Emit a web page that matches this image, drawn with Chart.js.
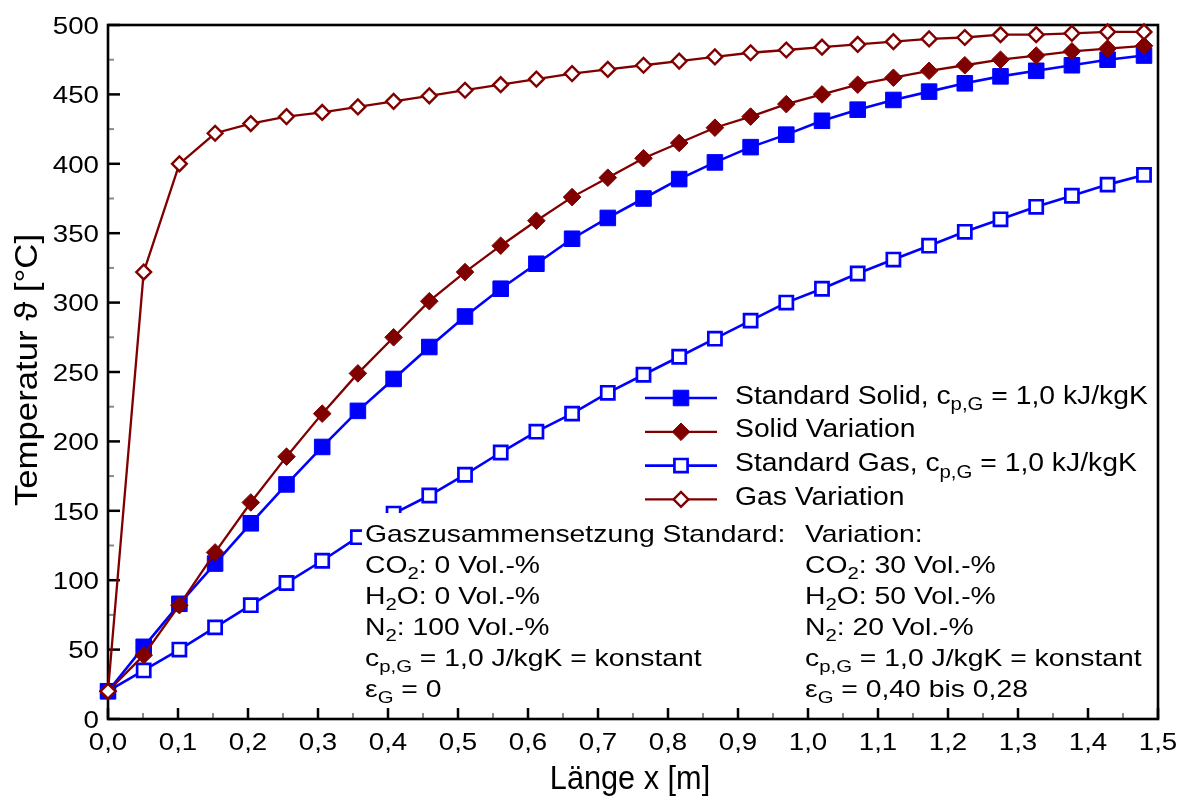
<!DOCTYPE html>
<html>
<head>
<meta charset="utf-8">
<script src="https://cdn.jsdelivr.net/npm/chart.js@4.4.1/dist/chart.umd.min.js"></script>
<style>
  html, body { margin: 0; padding: 0; background: #fff; }
  #wrap { width: 1184px; height: 798px; position: relative; }
</style>
</head>
<body>
<div id="wrap"><canvas id="chart"></canvas></div>
<script>
// Position along the bed, x in m
const lengthX = [0.000, 0.051, 0.102, 0.153, 0.204, 0.255, 0.306, 0.357, 0.408, 0.459,
                 0.510, 0.561, 0.612, 0.663, 0.714, 0.765, 0.816, 0.867, 0.918, 0.969,
                 1.020, 1.071, 1.122, 1.173, 1.224, 1.275, 1.326, 1.377, 1.428, 1.480];

// Temperatures in °C
const standardSolid  = [20, 52, 83, 112, 141, 169, 196, 222, 245, 268, 290, 310, 328, 346, 361,
                        375, 389, 401, 412, 421, 431, 439, 446, 452, 458, 463, 467, 471, 475, 478];
const solidVariation = [20, 46, 82, 120, 156, 189, 220, 249, 275, 301, 322, 341, 359, 376, 390,
                        404, 415, 426, 434, 443, 450, 457, 462, 467, 471, 475, 478, 481, 483, 485];
const standardGas    = [20, 35, 50, 66, 82, 98, 114, 131, 148, 161, 176, 192, 207, 220, 235,
                        248, 261, 274, 287, 300, 310, 321, 331, 341, 351, 360, 369, 377, 385, 392];
const gasVariation   = [20, 322, 400, 422, 429, 434, 437, 441, 445, 449, 453, 457, 461, 465, 468,
                        471, 474, 477, 480, 482, 484, 486, 488, 490, 491, 493, 493, 494, 495, 495];

// Legend labels: [text, isSubscript]
const legendLabels = [
  [["Standard Solid, c"], ["p,G", true], [" = 1,0 kJ/kgK"]],
  [["Solid Variation"]],
  [["Standard Gas, c"], ["p,G", true], [" = 1,0 kJ/kgK"]],
  [["Gas Variation"]]
];

// Gas composition notes, two columns
const notesStandard = [
  [["Gaszusammensetzung Standard:"]],
  [["CO"], ["2", true], [": 0 Vol.-%"]],
  [["H"], ["2", true], ["O: 0 Vol.-%"]],
  [["N"], ["2", true], [": 100 Vol.-%"]],
  [["c"], ["p,G", true], [" = 1,0 J/kgK = konstant"]],
  [["ε"], ["G", true], [" = 0"]]
];
const notesVariation = [
  [["Variation:"]],
  [["CO"], ["2", true], [": 30 Vol.-%"]],
  [["H"], ["2", true], ["O: 50 Vol.-%"]],
  [["N"], ["2", true], [": 20 Vol.-%"]],
  [["c"], ["p,G", true], [" = 1,0 J/kgK = konstant"]],
  [["ε"], ["G", true], [" = 0,40 bis 0,28"]]
];

const xTitle = "Länge x [m]";
const yTitle = "Temperatur ϑ [°C]";

const FONT = "'Liberation Sans', Arial, sans-serif";
const BLUE = "#0000ff";
const RED = "#800000";

function pts(ys) { return lengthX.map((x, i) => ({ x: x, y: ys[i] })); }

// Draws a line of text with optional subscripts, horizontally stretched by sx
function richText(ctx, parts, x, y, size, sx, align, rotate) {
  ctx.save();
  ctx.translate(x, y);
  if (rotate) ctx.rotate(rotate);
  ctx.scale(sx, 1);
  ctx.textBaseline = "alphabetic";
  ctx.textAlign = "left";
  ctx.fillStyle = "#000";
  const subSize = size * 0.72;
  let total = 0;
  const widths = parts.map(p => {
    ctx.font = (p[1] ? subSize : size) + "px " + FONT;
    const w = ctx.measureText(p[0]).width;
    total += w;
    return w;
  });
  let cx = align === "right" ? -total : align === "center" ? -total / 2 : 0;
  parts.forEach((p, i) => {
    ctx.font = (p[1] ? subSize : size) + "px " + FONT;
    ctx.fillText(p[0], cx, p[1] ? size * 0.27 : 0);
    cx += widths[i];
  });
  ctx.restore();
}

function drawMarker(ctx, ds, x, y) {
  const r = ds.pointRadius;
  ctx.save();
  ctx.lineWidth = ds.pointBorderWidth;
  ctx.strokeStyle = ds.pointBorderColor;
  ctx.fillStyle = ds.pointBackgroundColor;
  ctx.beginPath();
  if (ds.pointStyle === "rect") {
    const h = r * Math.SQRT1_2;
    ctx.rect(x - h, y - h, 2 * h, 2 * h);
  } else {
    ctx.moveTo(x - r, y);
    ctx.lineTo(x, y - r);
    ctx.lineTo(x + r, y);
    ctx.lineTo(x, y + r);
    ctx.closePath();
  }
  ctx.fill();
  ctx.stroke();
  ctx.restore();
}

// Frame, inward ticks, tick labels and axis titles
const framePlugin = {
  id: "frame",
  beforeDatasetsDraw(chart) {
    const ctx = chart.ctx;
    const a = chart.chartArea;
    const xs = chart.scales.x, ys = chart.scales.y;
    ctx.save();
    // minor ticks
    ctx.strokeStyle = "#8c8c8c";
    ctx.lineWidth = 2;
    for (let i = 0; i < xs.ticks.length - 1; i++) {
      const px = xs.getPixelForValue((xs.ticks[i].value + xs.ticks[i + 1].value) / 2);
      ctx.beginPath(); ctx.moveTo(px, a.bottom); ctx.lineTo(px, a.bottom - 6); ctx.stroke();
    }
    for (let i = 0; i < ys.ticks.length - 1; i++) {
      const py = ys.getPixelForValue((ys.ticks[i].value + ys.ticks[i + 1].value) / 2);
      ctx.beginPath(); ctx.moveTo(a.left, py); ctx.lineTo(a.left + 6, py); ctx.stroke();
    }
    // major ticks
    ctx.strokeStyle = "#000";
    ctx.lineWidth = 2.5;
    xs.ticks.forEach(t => {
      const px = xs.getPixelForValue(t.value);
      ctx.beginPath(); ctx.moveTo(px, a.bottom); ctx.lineTo(px, a.bottom - 11); ctx.stroke();
    });
    ys.ticks.forEach(t => {
      const py = ys.getPixelForValue(t.value);
      ctx.beginPath(); ctx.moveTo(a.left, py); ctx.lineTo(a.left + 12, py); ctx.stroke();
    });
    // frame
    ctx.lineWidth = 2.6;
    ctx.strokeRect(a.left, a.top, a.right - a.left, a.bottom - a.top);
    ctx.restore();

    // tick labels
    xs.ticks.forEach(t => {
      richText(ctx, [[t.label]], xs.getPixelForValue(t.value), a.bottom + 30.5, 24.5, 1.13, "center");
    });
    ys.ticks.forEach(t => {
      richText(ctx, [[t.label]], a.left - 9, ys.getPixelForValue(t.value) + 8.7, 24.5, 1.13, "right");
    });
    // axis titles
    richText(ctx, [[xTitle]], (a.left + a.right) / 2 - 3, 789, 33, 0.93, "center");
    richText(ctx, [[yTitle]], 37, (a.top + a.bottom) / 2 - 2, 31, 1.12, "center", -Math.PI / 2);
  }
};

// Legend and composition notes on top of the curves
const notesPlugin = {
  id: "notes",
  afterDatasetsDraw(chart) {
    const ctx = chart.ctx;
    const a = chart.chartArea;
    // white panel behind the composition notes
    ctx.save();
    ctx.fillStyle = "#fff";
    ctx.fillRect(362, 513, a.right - 8 - 362, a.bottom - 13 - 513);
    ctx.restore();
    notesStandard.forEach((line, i) => richText(ctx, line, 365, 542 + 31 * i, 24, 1.18, "left"));
    notesVariation.forEach((line, i) => richText(ctx, line, 805, 542 + 31 * i, 24, 1.18, "left"));

    // legend
    chart.data.datasets.forEach((ds, i) => {
      const yRow = 398 + 33.8 * i;
      ctx.save();
      ctx.strokeStyle = ds.borderColor;
      ctx.lineWidth = ds.borderWidth;
      ctx.beginPath(); ctx.moveTo(645, yRow); ctx.lineTo(717, yRow); ctx.stroke();
      ctx.restore();
      drawMarker(ctx, ds, 681, yRow);
      richText(ctx, legendLabels[i], 735, yRow + 5.5, 25.5, 1.11, "left");
    });
  }
};

new Chart(document.getElementById("chart"), {
  type: "line",
  data: {
    datasets: [
      {
        label: "Standard Solid", data: pts(standardSolid), order: 2,
        borderColor: BLUE, borderWidth: 2.6,
        pointStyle: "rect", pointRadius: 11, pointBorderWidth: 1,
        pointBackgroundColor: BLUE, pointBorderColor: BLUE
      },
      {
        label: "Solid Variation", data: pts(solidVariation), order: 1,
        borderColor: RED, borderWidth: 2.3,
        pointStyle: "rectRot", pointRadius: 8.8, pointBorderWidth: 1,
        pointBackgroundColor: RED, pointBorderColor: RED
      },
      {
        label: "Standard Gas", data: pts(standardGas), order: 3,
        borderColor: BLUE, borderWidth: 2.6,
        pointStyle: "rect", pointRadius: 9.3, pointBorderWidth: 2.7,
        pointBackgroundColor: "#ffffff", pointBorderColor: BLUE
      },
      {
        label: "Gas Variation", data: pts(gasVariation), order: 0,
        borderColor: RED, borderWidth: 2.3,
        pointStyle: "rectRot", pointRadius: 7.4, pointBorderWidth: 2.4,
        pointBackgroundColor: "#ffffff", pointBorderColor: RED
      }
    ]
  },
  options: {
    responsive: true,
    maintainAspectRatio: false,
    animation: false,
    devicePixelRatio: 1,
    layout: { padding: { top: 25, right: 26, left: 0, bottom: 0 } },
    elements: { line: { tension: 0 } },
    datasets: { line: { clip: false } },
    plugins: { legend: { display: false }, tooltip: { enabled: false } },
    scales: {
      x: {
        type: "linear", min: 0, max: 1.5,
        grid: { display: false }, border: { display: false },
        ticks: { display: false, stepSize: 0.1, callback: v => v.toFixed(1).replace(".", ",") },
        afterFit: s => { s.height = 79; }
      },
      y: {
        type: "linear", min: 0, max: 500,
        grid: { display: false }, border: { display: false },
        ticks: { display: false, stepSize: 50, callback: v => String(v) },
        afterFit: s => { s.width = 108; }
      }
    }
  },
  plugins: [framePlugin, notesPlugin]
});
</script>
</body>
</html>
